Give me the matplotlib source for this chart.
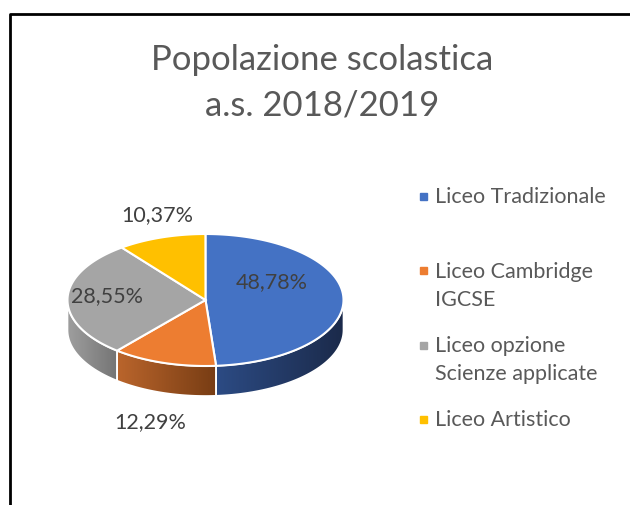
import numpy as np
import matplotlib.pyplot as plt
from matplotlib.patches import Polygon, Rectangle
from matplotlib.colors import LinearSegmentedColormap

plt.rcParams["font.family"] = ["Lato", "DejaVu Sans"]

# data
categories = ["Liceo Tradizionale", "Liceo Cambridge\nIGCSE",
              "Liceo opzione\nScienze applicate", "Liceo Artistico"]
shares = [48.78, 12.29, 28.55, 10.37]
labels = ["48,78%", "12,29%", "28,55%", "10,37%"]
top_colors = ["#4472C4", "#ED7D31", "#A5A5A5", "#FFC000"]
side_colors = [("#2C4B84", "#1B2A4A"), ("#BA652C", "#783D14"),
               ("#9E9E9E", "#747474"), ("#C79600", "#8F6C00")]

# layout (pixel space)
cx, cy, rx, ry, depth = 205.5, 301, 138, 66, 30
label_pos = [(272, 282), (150, 422), (107, 296), (157, 215)]
txt = "#595959"

fig = plt.figure(figsize=(6.3, 5.06), dpi=100)
ax = fig.add_axes([0, 0, 1, 1])
ax.set_xlim(0, 630)
ax.set_ylim(506, 0)
ax.axis("off")


def arc(t0, t1, n=120):
    t = np.radians(np.linspace(t0, t1, n))
    return cx + rx * np.cos(t), cy - ry * np.sin(t)


start = 90.0
for i, share in enumerate(shares):
    end = start - 360 * share / 100
    # visible side wall (front half of the ellipse)
    a, b = max(end, -180), min(start, 0)
    if a < b:
        x, y = arc(a, b)
        pts = np.column_stack([np.r_[x, x[::-1]], np.r_[y, y[::-1] + depth]])
        wall = Polygon(pts, closed=True, facecolor="none",
                       edgecolor="white", lw=1.2, zorder=2)
        ax.add_patch(wall)
        cmap = LinearSegmentedColormap.from_list("s", side_colors[i])
        grad = np.linspace(0, 1, 256).reshape(1, -1)
        im = ax.imshow(grad, cmap=cmap, aspect="auto", zorder=1,
                       extent=(x.min(), x.max(), y.max() + depth, y.min()))
        im.set_clip_path(wall)
    # top face
    x, y = arc(start, end)
    pts = np.column_stack([np.r_[cx, x], np.r_[cy, y]])
    ax.add_patch(Polygon(pts, closed=True, facecolor=top_colors[i],
                         edgecolor="white", lw=1.5, zorder=3))
    ax.text(*label_pos[i], labels[i], fontsize=15.5, color="#404040",
            ha="center", va="center", zorder=4)
    start = end

# title
ax.text(322, 60, "Popolazione scolastica", fontsize=25, color=txt,
        ha="center", va="center")
ax.text(322, 105, "a.s. 2018/2019", fontsize=25, color=txt,
        ha="center", va="center")

# legend
for i, cat in enumerate(categories):
    y0 = 197 + i * 74.5
    ax.add_patch(Rectangle((420, y0 - 3.5), 7, 7, color=top_colors[i]))
    for j, line in enumerate(cat.split("\n")):
        ax.text(435, y0 + j * 28, line, fontsize=15.5, color=txt,
                ha="left", va="center")

# frame
ax.plot([9.5, 9.5, 630], [506, 15, 15], color="black", lw=2, solid_capstyle="butt")

fig.savefig("out.png", dpi=100)
